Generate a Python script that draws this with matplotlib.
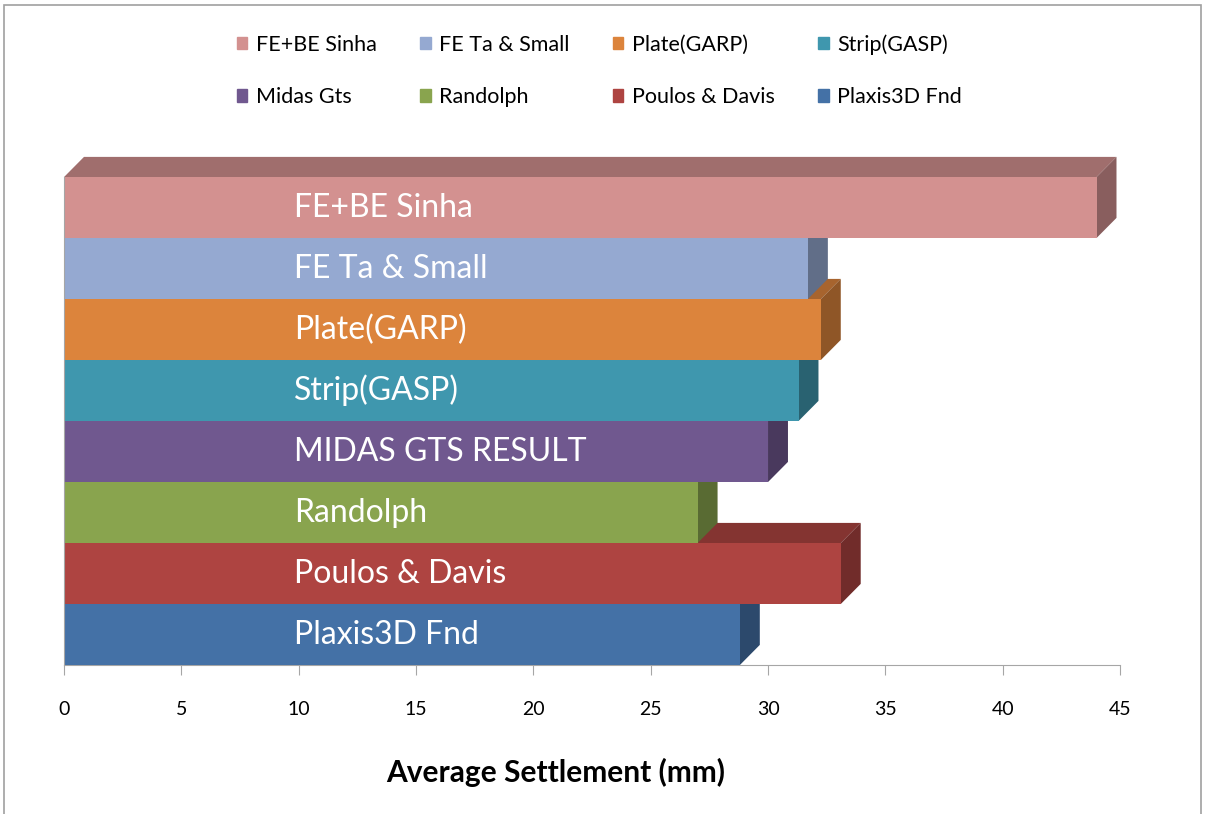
import matplotlib.pyplot as plt
from matplotlib.patches import Polygon, Rectangle
import matplotlib.colors as mcolors

# 数据（从上到下）
bar_labels = ['FE+BE Sinha', 'FE Ta & Small', 'Plate(GARP)', 'Strip(GASP)',
              'MIDAS GTS RESULT', 'Randolph', 'Poulos & Davis', 'Plaxis3D Fnd']
legend_labels = ['FE+BE Sinha', 'FE Ta & Small', 'Plate(GARP)', 'Strip(GASP)',
                 'Midas Gts', 'Randolph', 'Poulos & Davis', 'Plaxis3D Fnd']
settlement = [44.0, 31.7, 32.25, 31.3, 30.0, 27.0, 33.1, 28.8]
colors = ['#D39190', '#95A9D1', '#DC843C', '#3F97AE',
          '#70588F', '#89A44E', '#AE4441', '#4471A6']
xticks = [0, 5, 10, 15, 20, 25, 30, 35, 40, 45]

plt.rcParams['font.family'] = ['Lato', 'DejaVu Sans']

fig = plt.figure(figsize=(12.06, 8.14), dpi=100)
ax = fig.add_axes([0.0531, 0.183, 0.8756, 0.6295])

n = len(settlement)
ypos = list(range(n - 1, -1, -1))
dx, dy = 0.85, 0.33   # 3D 深度偏移


def shade(c, f):
    r, g, b = mcolors.to_rgb(c)
    return (r * f, g * f, b * f)


# 顶面和侧面
for y, v, c in zip(ypos, settlement, colors):
    top = Polygon([(0, y + 0.5), (v, y + 0.5), (v + dx, y + 0.5 + dy), (dx, y + 0.5 + dy)],
                  closed=True, facecolor=shade(c, 0.76), edgecolor='none', zorder=1)
    ax.add_patch(top)
for y, v, c in zip(ypos, settlement, colors):
    side = Polygon([(v, y - 0.5), (v + dx, y - 0.5 + dy), (v + dx, y + 0.5 + dy), (v, y + 0.5)],
                   closed=True, facecolor=shade(c, 0.65), edgecolor='none', zorder=2)
    ax.add_patch(side)

# 正面
bars = ax.barh(ypos, settlement, height=1.0, color=colors, edgecolor='none', zorder=3)

for y, lab in zip(ypos, bar_labels):
    ax.text(9.8, y, lab, color='white', fontsize=23, va='center', ha='left', zorder=4)

ax.set_xlim(0, 45)
ax.set_ylim(-0.5, 7.9)
ax.set_xticks(xticks)
ax.set_yticks([])
for s in ['top', 'right']:
    ax.spines[s].set_visible(False)
ax.spines['left'].set_bounds(-0.5, 7.5)
ax.spines['left'].set_color('#A6A6A6')
ax.spines['bottom'].set_color('#A6A6A6')
ax.spines['left'].set_zorder(5)
ax.tick_params(axis='x', length=7, color='#A6A6A6', pad=19, labelsize=14)
ax.set_xlabel('Average Settlement (mm)', fontsize=21.5, fontweight='bold')
ax.xaxis.set_label_coords(0.466, -0.181)

# 图例：两行四列，按行排列
order = [0, 4, 1, 5, 2, 6, 3, 7]
handles = [Rectangle((0, 0), 1, 1, color=colors[i]) for i in order]
labels = [legend_labels[i] for i in order]
fig.legend(handles, labels, ncol=4, loc='center', bbox_to_anchor=(0.497, 0.913),
           frameon=False, fontsize=15.5, handlelength=0.5, handleheight=0.5,
           handletextpad=0.4, columnspacing=2.0, labelspacing=1.5)

# 外框
fig.patches.append(Rectangle((0.003, -0.01), 0.993, 1.004, transform=fig.transFigure,
                             fill=False, edgecolor='#A0A0A0', linewidth=1.2))

plt.savefig('out.png', dpi=100)
